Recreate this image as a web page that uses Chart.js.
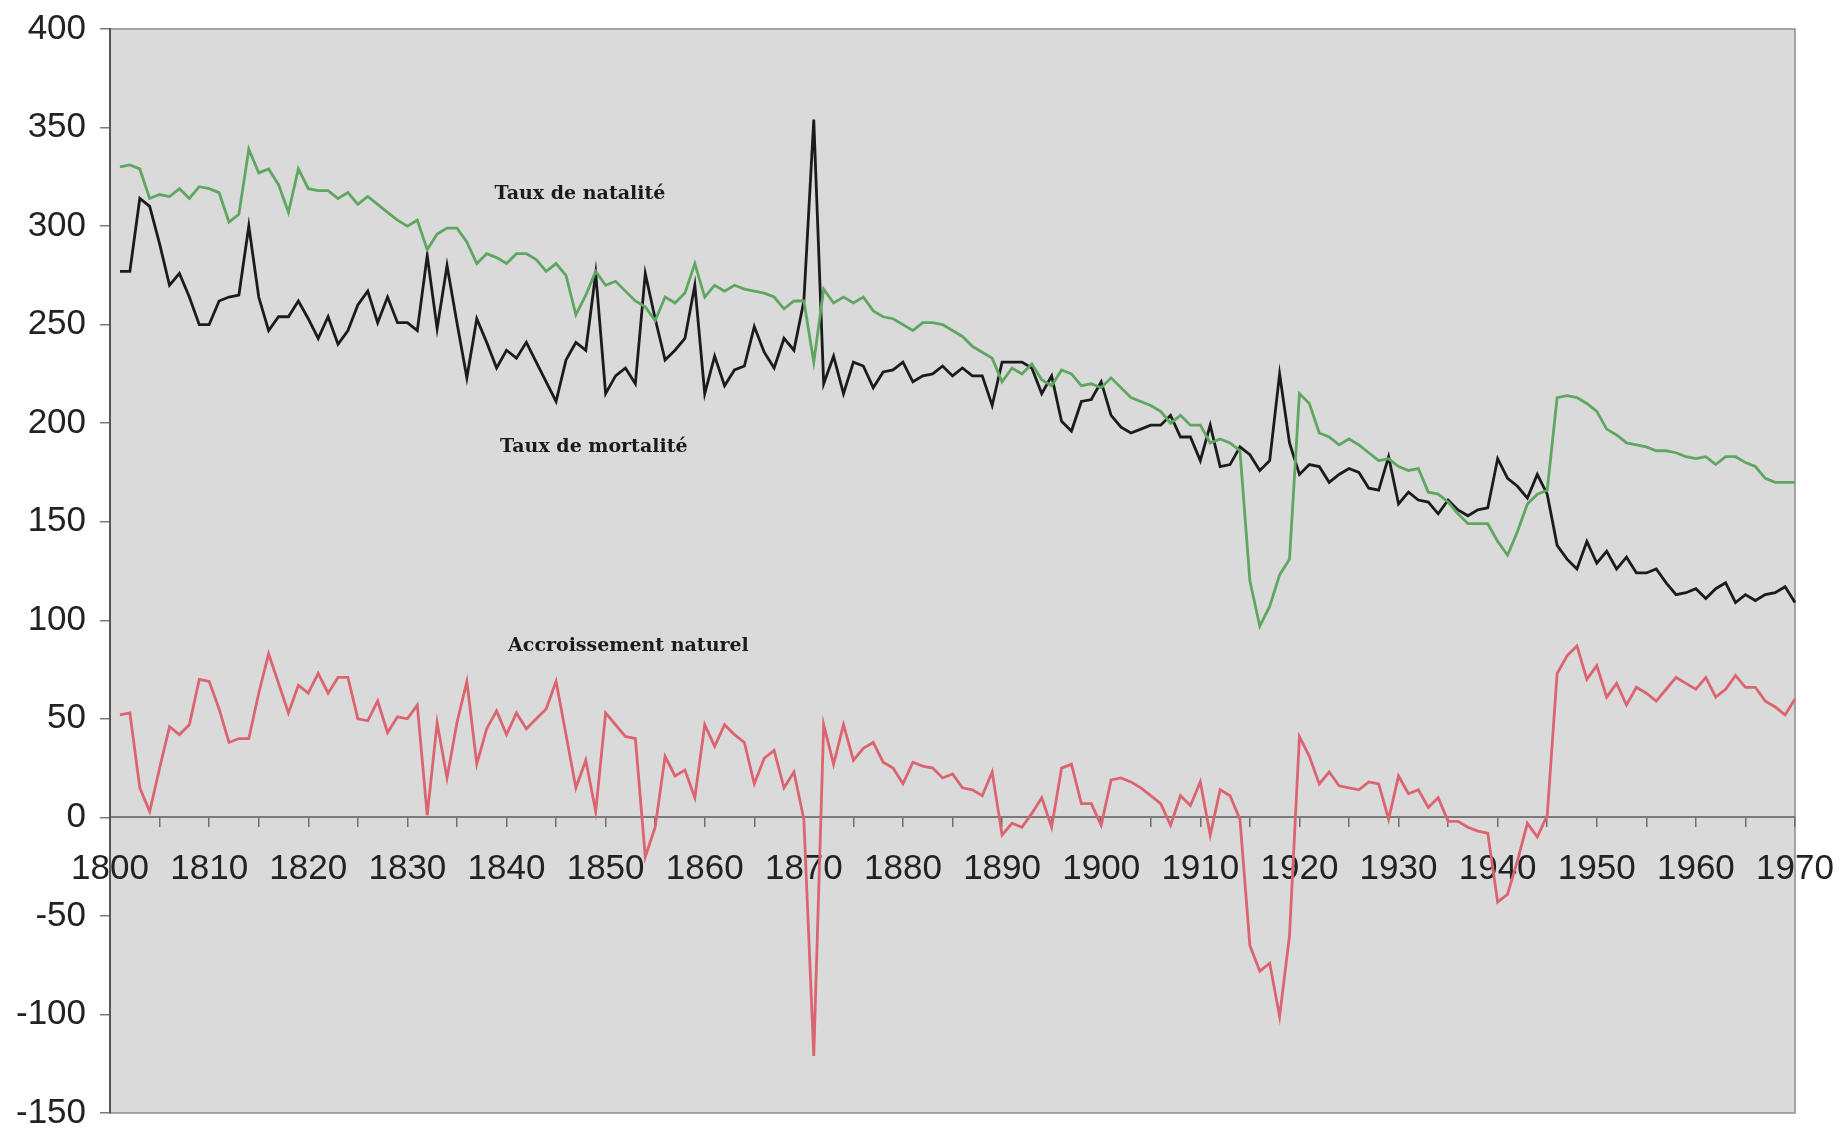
<!DOCTYPE html>
<html>
<head>
<meta charset="utf-8">
<script src="https://cdn.jsdelivr.net/npm/chart.js@4.4.0/dist/chart.umd.min.js"></script>
<style>
  html, body { margin: 0; padding: 0; background: #ffffff; overflow: hidden; }
  #wrap { width: 1843px; height: 1128px; overflow: hidden; }
  canvas { display: block; }
</style>
</head>
<body>
<div id="wrap"><canvas id="chart" width="1843" height="1128"></canvas></div>
<script>
// Categories: one per year, 1800-1970 (series start in 1801)
const years = [];
for (let y = 1800; y <= 1970; y++) years.push(String(y));

// Taux de natalité (pour 10 000), 1800 = no value
const natalite = [null,
  330, 331, 329, 314, 316, 315, 319, 314, 320, 319,
  317, 302, 306, 339, 327, 329, 321, 307, 329, 319,
  318, 318, 314, 317, 311, 315, 311, 307, 303, 300,
  303, 288, 296, 299, 299, 292, 281, 286, 284, 281,
  286, 286, 283, 277, 281, 275, 255, 265, 277, 270,
  272, 267, 262, 259, 252, 264, 261, 266, 281, 264,
  270, 267, 270, 268, 267, 266, 264, 258, 262, 262,
  231, 268, 261, 264, 261, 264, 257, 254, 253, 250,
  247, 251, 251, 250, 247, 244, 239, 236, 233, 221,
  228, 225, 230, 222, 219, 227, 225, 219, 220, 218,
  223, 218, 213, 211, 209, 206, 200, 204, 199, 199,
  190, 192, 190, 186, 120, 97, 107, 123, 131, 215,
  210, 195, 193, 189, 192, 189, 185, 181, 182, 178,
  176, 177, 165, 164, 160, 154, 149, 149, 149, 140,
  133, 145, 159, 164, 166, 213, 214, 213, 210, 206,
  197, 194, 190, 189, 188, 186, 186, 185, 183, 182,
  183, 179, 183, 183, 180, 178, 172, 170, 170, 170
];

// Taux de mortalité
const mortalite = [null,
  277, 277, 314, 310, 291, 270, 276, 264, 250, 250,
  262, 264, 265, 300, 264, 247, 254, 254, 262, 253,
  243, 254, 240, 247, 260, 267, 251, 264, 251, 251,
  247, 285, 248, 280, 251, 223, 253, 241, 228, 237,
  233, 241, 231, 221, 211, 232, 241, 237, 276, 215,
  224, 228, 220, 276, 253, 232, 237, 243, 270, 215,
  234, 219, 227, 229, 249, 236, 228, 243, 237, 262,
  354, 220, 234, 215, 231, 229, 218, 226, 227, 231,
  221, 224, 225, 229, 224, 228, 224, 224, 209, 231,
  231, 231, 228, 215, 224, 201, 196, 211, 212, 221,
  204, 198, 195, 197, 199, 199, 204, 193, 193, 181,
  199, 178, 179, 188, 184, 176, 181, 225, 190, 174,
  179, 178, 170, 174, 177, 175, 167, 166, 183, 159,
  165, 161, 160, 154, 161, 156, 153, 156, 157, 182,
  172, 168, 162, 174, 164, 138, 131, 126, 140, 129,
  135, 126, 132, 124, 124, 126, 119, 113, 114, 116,
  111, 116, 119, 109, 113, 110, 113, 114, 117, 109
];

// Accroissement naturel
const accroissement = [null,
  52, 53, 15, 3, 25, 46, 42, 47, 70, 69,
  55, 38, 40, 40, 63, 83, 68, 53, 67, 63,
  73, 63, 71, 71, 50, 49, 59, 43, 51, 50,
  57, 1, 48, 20, 48, 69, 27, 45, 54, 42,
  53, 45, 50, 55, 69, 42, 15, 29, 3, 53,
  47, 41, 40, -20, -5, 31, 21, 24, 10, 47,
  36, 47, 42, 38, 17, 30, 34, 15, 23, -1,
  -121, 47, 27, 47, 29, 35, 38, 28, 25, 17,
  28, 26, 25, 20, 22, 15, 14, 11, 23, -9,
  -3, -5, 2, 10, -5, 25, 27, 7, 7, -4,
  19, 20, 18, 15, 11, 7, -4, 11, 6, 18,
  -9, 14, 11, -1, -65, -78, -74, -101, -60, 41,
  31, 17, 23, 16, 15, 14, 18, 17, -1, 21,
  12, 14, 5, 10, -2, -2, -5, -7, -8, -43,
  -39, -22, -3, -10, 1, 73, 82, 87, 70, 77,
  61, 68, 57, 66, 63, 59, 65, 71, 68, 65,
  71, 61, 65, 72, 66, 66, 59, 56, 52, 60
];

const yTicks = [400, 350, 300, 250, 200, 150, 100, 50, 0, -50, -100, -150];

const seriesNames = ['Taux de natalité', 'Taux de mortalité', 'Accroissement naturel'];

// Text labels placed in data space (year, value)
const noteAnchors = [
  { text: seriesNames[0], year: 1847.4, value: 316 },
  { text: seriesNames[1], year: 1848.8, value: 188 },
  { text: seriesNames[2], year: 1852.3, value: 87 }
];

const tickFont = { family: '"Liberation Sans", Arial, sans-serif', size: 35 };

// Grey plot background and thin frame
const plotFrame = {
  id: 'plotFrame',
  beforeDraw(chart) {
    const { ctx, chartArea: a } = chart;
    ctx.save();
    ctx.fillStyle = '#dadada';
    ctx.fillRect(a.left, a.top, a.right - a.left, a.bottom - a.top);
    ctx.strokeStyle = '#8c8c8c';
    ctx.lineWidth = 1.5;
    ctx.beginPath();
    ctx.moveTo(a.left, a.top);
    ctx.lineTo(a.right, a.top);
    ctx.lineTo(a.right, a.bottom);
    ctx.lineTo(a.left, a.bottom);
    ctx.stroke();
    ctx.restore();
  }
};

// Series names written inside the plot
const seriesNotes = {
  id: 'seriesNotes',
  afterDatasetsDraw(chart) {
    const { ctx, scales } = chart;
    ctx.save();
    ctx.font = 'bold 19px "DejaVu Serif", "Liberation Serif", serif';
    ctx.fillStyle = '#1a1a1a';
    ctx.textAlign = 'center';
    ctx.textBaseline = 'middle';
    noteAnchors.forEach(n => {
      const x = scales.x.getPixelForValue(n.year - 1800);
      const y = scales.y.getPixelForValue(n.value);
      ctx.fillText(n.text, x, y);
    });
    ctx.restore();
  }
};

new Chart(document.getElementById('chart'), {
  type: 'line',
  data: {
    labels: years,
    datasets: [
      { label: seriesNames[0], data: natalite, borderColor: '#5fa660', borderWidth: 2.8 },
      { label: seriesNames[1], data: mortalite, borderColor: '#1b1b1b', borderWidth: 2.8 },
      { label: seriesNames[2], data: accroissement, borderColor: '#dc6470', borderWidth: 2.8 }
    ]
  },
  options: {
    responsive: false,
    animation: false,
    elements: { point: { radius: 0 }, line: { tension: 0 } },
    layout: { padding: { left: 2, right: 48, top: 29, bottom: 15 } },
    plugins: { legend: { display: false }, tooltip: { enabled: false } },
    scales: {
      x: {
        type: 'category',
        position: { y: 0 },
        offset: false,
        afterFit: s => { s.paddingLeft = 0; s.paddingRight = 0; },
        grid: {
          drawOnChartArea: false,
          drawTicks: true,
          tickLength: 9,
          lineWidth: 1.5,
          color: c => (c.index % 5 === 0 ? '#6e6e6e' : 'rgba(0,0,0,0)')
        },
        border: { color: '#7a7a7a', width: 2 },
        ticks: {
          autoSkip: false,
          maxRotation: 0,
          minRotation: 0,
          padding: 22,
          color: '#222222',
          font: tickFont,
          callback: (v, i) => (i % 10 === 0 ? years[i] : '')
        }
      },
      y: {
        min: Math.min(...yTicks),
        max: Math.max(...yTicks),
        afterFit: s => { s.paddingTop = 0; s.paddingBottom = 0; },
        grid: { drawOnChartArea: false, tickLength: 10, color: '#7a7a7a', lineWidth: 1.5 },
        border: { color: '#555555', width: 2 },
        ticks: {
          stepSize: yTicks[0] - yTicks[1],
          padding: 14,
          color: '#222222',
          font: tickFont
        }
      }
    }
  },
  plugins: [plotFrame, seriesNotes]
});
</script>
</body>
</html>
